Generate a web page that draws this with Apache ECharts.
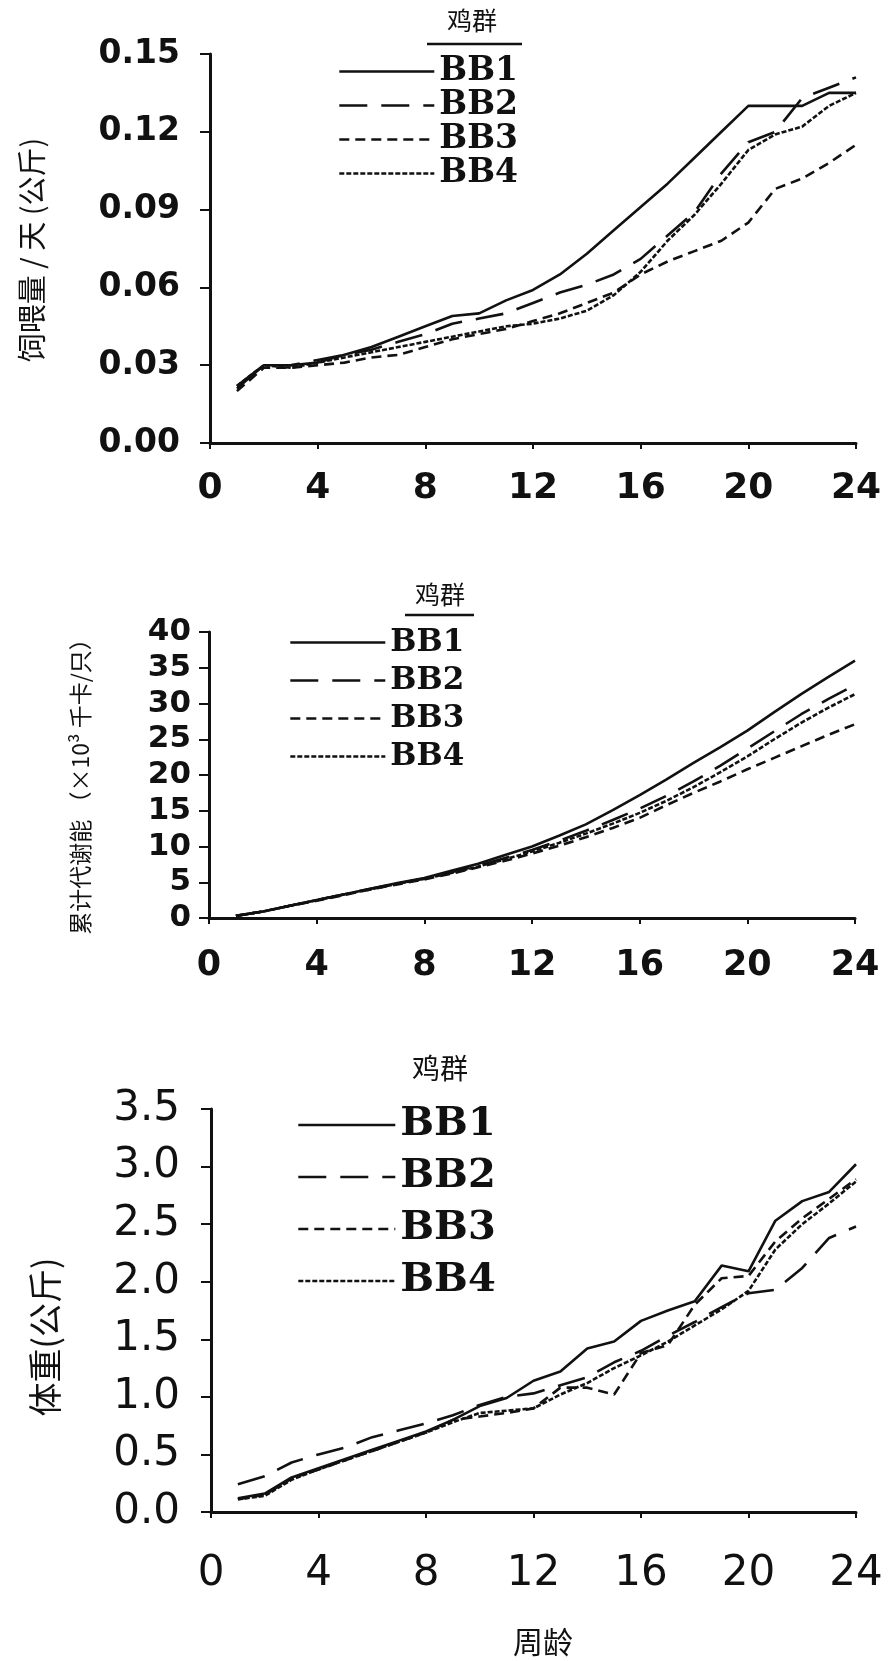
<!DOCTYPE html>
<html><head><meta charset="utf-8">
<script src="https://cdn.jsdelivr.net/npm/echarts@6/dist/echarts.min.js"></script>
<style>html,body{margin:0;padding:0;background:#fff}#c{width:891px;height:1661px}</style>
</head><body><div id="c"></div>
<script>
// ---- data ----
const weeks = [1,2,3,4,5,6,7,8,9,10,11,12,13,14,15,16,17,18,19,20,21,22,23,24];
const flockNames = ['BB1','BB2','BB3','BB4'];
const xTicks = [0,4,8,12,16,20,24];

// Chart 1: feed per day (kg)
const feedBB1 = [0.021,0.030,0.030,0.031,0.034,0.037,0.041,0.045,0.049,0.050,0.055,0.059,0.065,0.073,0.082,0.091,0.100,0.110,0.120,0.130,0.130,0.130,0.135,0.135];
const feedBB2 = [0.022,0.030,0.030,0.032,0.034,0.036,0.039,0.042,0.046,0.048,0.050,0.054,0.058,0.061,0.065,0.071,0.080,0.089,0.104,0.116,0.120,0.133,0.137,0.141];
const feedBB3 = [0.020,0.029,0.029,0.030,0.031,0.033,0.034,0.037,0.040,0.042,0.044,0.047,0.050,0.054,0.058,0.065,0.070,0.074,0.078,0.085,0.098,0.102,0.108,0.115];
const feedBB4 = [0.022,0.030,0.029,0.031,0.033,0.035,0.037,0.039,0.041,0.043,0.045,0.046,0.048,0.051,0.057,0.066,0.078,0.088,0.100,0.113,0.119,0.122,0.130,0.135];
const feedTicks = [0,0.03,0.06,0.09,0.12,0.15];

// Chart 2: cumulative ME (x10^3 kcal/bird)
const meBB1 = [0.3,0.9,1.7,2.5,3.3,4.1,4.9,5.6,6.6,7.6,8.8,10.0,11.5,13.1,15.1,17.2,19.4,21.7,23.9,26.2,28.8,31.3,33.7,36.0];
const meBB2 = [0.3,0.9,1.7,2.5,3.3,4.1,4.8,5.5,6.4,7.3,8.4,9.5,10.8,12.2,13.7,15.3,17.1,19.1,21.3,23.7,26.1,28.5,30.6,32.6];
const meBB3 = [0.3,0.9,1.7,2.4,3.2,4.0,4.7,5.4,6.2,7.1,8.0,9.0,10.1,11.3,12.6,14.0,15.8,17.5,19.1,20.8,22.4,24.0,25.6,27.1];
const meBB4 = [0.3,0.9,1.7,2.5,3.3,4.0,4.8,5.5,6.3,7.2,8.2,9.3,10.5,11.8,13.2,14.7,16.4,18.3,20.4,22.6,25.0,27.3,29.4,31.3];
const meTicks = [0,5,10,15,20,25,30,35,40];

// Chart 3: body weight (kg)
const bwBB1 = [0.12,0.16,0.30,0.38,0.46,0.54,0.62,0.70,0.80,0.92,0.99,1.14,1.22,1.42,1.48,1.66,1.75,1.83,2.14,2.09,2.53,2.70,2.78,3.02];
const bwBB2 = [0.24,0.31,0.43,0.50,0.56,0.65,0.71,0.77,0.84,0.93,1.00,1.03,1.10,1.17,1.30,1.40,1.53,1.65,1.78,1.90,1.93,2.12,2.38,2.48];
const bwBB3 = [0.11,0.15,0.29,0.37,0.45,0.53,0.61,0.69,0.80,0.83,0.86,0.90,1.08,1.08,1.02,1.38,1.45,1.80,2.03,2.05,2.35,2.55,2.72,2.89];
const bwBB4 = [0.11,0.14,0.28,0.37,0.45,0.53,0.61,0.69,0.78,0.86,0.88,0.90,1.02,1.12,1.25,1.36,1.48,1.62,1.76,1.92,2.28,2.50,2.68,2.87];
const bwTicks = [0,0.5,1.0,1.5,2.0,2.5,3.0,3.5];

// ---- styling ----
const INK = '#111';
const dashes = {BB1: 'solid', BB2: [28, 14], BB3: [10, 6], BB4: [5, 2]};

const chartData = [
  [feedBB1, feedBB2, feedBB3, feedBB4],
  [meBB1, meBB2, meBB3, meBB4],
  [bwBB1, bwBB2, bwBB3, bwBB4]
];

const series = [];
chartData.forEach((set, ci) => {
  set.forEach((vals, si) => {
    const nm = flockNames[si];
    series.push({
      type: 'line', name: nm, xAxisIndex: ci, yAxisIndex: ci,
      symbol: 'none', silent: true, animation: false,
      data: weeks.map((w, k) => [w, vals[k]]),
      lineStyle: {color: INK, width: 2.6, type: dashes[nm]},
      itemStyle: {color: INK}
    });
  });
});

const grids = [
  {left: 210, width: 646, top: 54, height: 389},
  {left: 209, width: 646, top: 632, height: 286},
  {left: 211, width: 645, top: 1109, height: 403}
];

function xAxisFor(i, fs, margin, weight) {
  return {
    type: 'value', gridIndex: i, min: xTicks[0], max: xTicks[xTicks.length-1], interval: xTicks[1]-xTicks[0],
    axisLine: {show: true, onZero: false, lineStyle: {color: INK, width: 3}},
    axisTick: {show: true, inside: false, length: 6, lineStyle: {color: INK, width: 2}},
    splitLine: {show: false},
    axisLabel: {color: INK, fontFamily: 'DejaVu Sans', fontWeight: weight, fontSize: fs, margin: margin}
  };
}
function yAxisFor(i, ticks, fs, margin, weight, dec) {
  return {
    type: 'value', gridIndex: i, min: ticks[0], max: ticks[ticks.length-1], interval: ticks[1]-ticks[0],
    axisLine: {show: true, onZero: false, lineStyle: {color: INK, width: 3}},
    axisTick: {show: true, inside: false, length: 10, lineStyle: {color: INK, width: 2}},
    splitLine: {show: false},
    axisLabel: {color: INK, fontFamily: 'DejaVu Sans', fontWeight: weight, fontSize: fs, margin: margin,
      formatter: v => dec === 0 ? String(Math.round(v)) : v.toFixed(dec)}
  };
}

function legendFor(left, top, fs, gap, w) {
  return {
    orient: 'vertical', left: left, top: top, itemWidth: w, itemHeight: 14, itemGap: gap,
    selectedMode: false, data: flockNames,
    lineStyle: {width: 2.6},
    itemStyle: {opacity: 0, color: 'transparent', borderWidth: 0},
    textStyle: {color: INK, fontFamily: 'DejaVu Serif', fontWeight: 'bold', fontSize: fs}
  };
}

const cjk = '"Noto Sans CJK SC", sans-serif';
function label(text, x, y, fs, rot) {
  return {type: 'text', x: x, y: y, rotation: rot || 0, silent: true,
    style: {text: text, fill: INK, font: 'normal ' + fs + 'px ' + cjk, textAlign: 'center', textVerticalAlign: 'middle'}};
}

const option = {
  backgroundColor: '#fff',
  animation: false,
  grid: grids,
  xAxis: [xAxisFor(0, 36, 28, 'bold'), xAxisFor(1, 35, 30, 'bold'), xAxisFor(2, 42, 41, 'normal')],
  yAxis: [yAxisFor(0, feedTicks, 33, 30, 'bold', 2), yAxisFor(1, meTicks, 31, 18, 'bold', 0), yAxisFor(2, bwTicks, 42, 31, 'normal', 1)],
  legend: [legendFor(333, 50, 33, 1, 95), legendFor(284, 622, 31, 7, 95), legendFor(292, 1100, 40, 12, 97)],
  graphic: [
    label('鸡群', 472, 20, 25),
    {type: 'line', silent: true, shape: {x1: 427, y1: 44, x2: 522, y2: 44}, style: {stroke: INK, lineWidth: 2.5}},
    label('鸡群', 440, 594, 25),
    {type: 'line', silent: true, shape: {x1: 405, y1: 615, x2: 474, y2: 615}, style: {stroke: INK, lineWidth: 2.5}},
    label('鸡群', 440, 1068, 28),
    label('饲喂量 / 天 (公斤)', 32, 250, 29, Math.PI/2),
    label('累计代谢能 （×10³ 千卡/只）', 80, 781, 23, Math.PI/2),
    label('体重(公斤)', 45, 1337, 34, Math.PI/2),
    label('周龄', 543, 1642, 30)
  ],
  series: series
};

const chart = echarts.init(document.getElementById('c'), null, {renderer: 'canvas'});
chart.setOption(option);
</script>
</body></html>
